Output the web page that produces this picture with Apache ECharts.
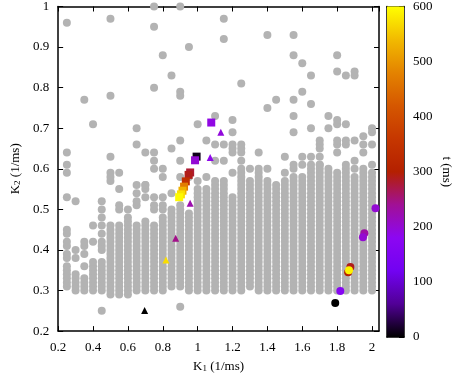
<!DOCTYPE html>
<html>
<head>
<meta charset="utf-8">
<script src="https://cdn.jsdelivr.net/npm/echarts@6/dist/echarts.min.js"></script>
<style>
  html, body { margin: 0; padding: 0; background: #fff; }
  #chart { width: 454px; height: 378px; }
</style>
</head>
<body>
<div id="chart"></div>
<script>
// grey grid of fits: each column (K1) has runs of K2 values, step 0.01
const colX = [0.25, 0.30, 0.35, 0.40, 0.45, 0.50, 0.55, 0.60, 0.65, 0.70, 0.75, 0.80,
  0.85, 0.90, 0.95, 1.00, 1.05, 1.10, 1.15, 1.20, 1.25, 1.30, 1.35, 1.40, 1.45, 1.50,
  1.55, 1.60, 1.65, 1.70, 1.75, 1.80, 1.85, 1.90, 1.95, 2.00];
const colRuns = [
  [[0.31, 0.36], [0.38, 0.39], [0.41, 0.42], [0.44, 0.45]],
  [[0.30, 0.34]],
  [[0.30, 0.33], [0.41, 0.42]],
  [[0.30, 0.37]],
  [[0.30, 0.37], [0.40, 0.42]],
  [[0.29, 0.46], [0.57, 0.59]],
  [[0.29, 0.46], [0.50, 0.51]],
  [[0.29, 0.48]],
  [[0.30, 0.46], [0.51, 0.52]],
  [[0.30, 0.47], [0.55, 0.56]],
  [[0.30, 0.46], [0.50, 0.51]],
  [[0.30, 0.48], [0.50, 0.51]],
  [[0.31, 0.50]],
  [[0.31, 0.51]],
  [[0.30, 0.49]],
  [[0.30, 0.55]],
  [[0.30, 0.55]],
  [[0.30, 0.57]],
  [[0.30, 0.57]],
  [[0.30, 0.53], [0.64, 0.66]],
  [[0.30, 0.60], [0.64, 0.66]],
  [[0.31, 0.57]],
  [[0.30, 0.60]],
  [[0.30, 0.57]],
  [[0.30, 0.56]],
  [[0.30, 0.57]],
  [[0.30, 0.58], [0.60, 0.61]],
  [[0.30, 0.58]],
  [[0.30, 0.61]],
  [[0.30, 0.61], [0.65, 0.67]],
  [[0.30, 0.60]],
  [[0.30, 0.59], [0.66, 0.67], [0.71, 0.72]],
  [[0.30, 0.61], [0.66, 0.67]],
  [[0.30, 0.58]],
  [[0.30, 0.60]],
  [[0.30, 0.59], [0.69, 0.70]]
];
// isolated grey points
const singleX = [0.25, 0.25, 0.25, 0.25, 0.25, 0.30, 0.30, 0.30, 0.35, 0.35, 0.35, 0.40, 0.40, 0.40,
  0.45, 0.45, 0.45, 0.45, 0.45, 0.45, 0.50, 0.50, 0.50, 0.55, 0.55, 0.60, 0.65, 0.65, 0.65, 0.65,
  0.70, 0.70, 0.70, 0.75, 0.75, 0.75, 0.75, 0.75, 0.75, 0.75, 0.80, 0.80, 0.80, 0.80, 0.85, 0.85, 0.85,
  0.90, 0.90, 0.90, 0.90, 0.90, 0.90, 0.90, 0.95, 0.95, 1.00, 1.00, 1.05, 1.05, 1.10, 1.10, 1.10,
  1.15, 1.15, 1.15, 1.15, 1.20, 1.20, 1.20, 1.25, 1.25, 1.30, 1.35, 1.40, 1.40, 1.40, 1.45, 1.50, 1.50,
  1.55, 1.55, 1.55, 1.55, 1.55, 1.60, 1.60, 1.60, 1.60, 1.65, 1.65, 1.65, 1.65, 1.70, 1.70,
  1.75, 1.75, 1.80, 1.80, 1.80, 1.85, 1.85, 1.90, 1.90, 1.90, 1.90, 1.90, 1.95, 1.95, 1.95, 2.00, 2.00];
const singleY = [0.96, 0.64, 0.61, 0.59, 0.53, 0.52, 0.40, 0.38, 0.77, 0.39, 0.36, 0.71, 0.46, 0.42,
  0.52, 0.50, 0.48, 0.46, 0.44, 0.25, 0.97, 0.78, 0.63, 0.59, 0.55, 0.50, 0.70, 0.66, 0.56, 0.54,
  0.64, 0.56, 0.53, 1.00, 0.95, 0.80, 0.64, 0.62, 0.60, 0.53, 0.88, 0.60, 0.58, 0.53, 0.83, 0.65, 0.54,
  1.00, 0.79, 0.78, 0.67, 0.62, 0.58, 0.26, 0.90, 0.58, 0.71, 0.57, 0.67, 0.58, 0.73, 0.66, 0.62,
  0.97, 0.92, 0.66, 0.62, 0.72, 0.69, 0.59, 0.81, 0.62, 0.60, 0.64, 0.93, 0.75, 0.60, 0.77, 0.63, 0.59,
  0.93, 0.88, 0.77, 0.73, 0.69, 0.86, 0.79, 0.63, 0.61, 0.83, 0.76, 0.70, 0.63, 0.63, 0.61,
  0.73, 0.70, 0.88, 0.84, 0.64, 0.83, 0.71, 0.84, 0.83, 0.67, 0.62, 0.60, 0.68, 0.66, 0.64, 0.66, 0.61];

// coloured markers: K1, K2, t (ms)
const sqX = [0.994, 0.985, 1.078, 0.957, 0.948, 0.932, 0.922, 0.913, 0.904, 0.894];
const sqY = [0.630, 0.621, 0.714, 0.591, 0.585, 0.569, 0.556, 0.546, 0.537, 0.530];
const sqT = [10, 200, 190, 280, 290, 340, 470, 530, 575, 595];
const triX = [1.133, 1.072, 0.957, 0.874, 0.818, 0.696];
const triY = [0.690, 0.628, 0.515, 0.429, 0.375, 0.251];
const triT = [195, 185, 225, 245, 570, 0];
const cirX = [1.789, 1.818, 1.876, 1.863, 1.868, 1.956, 1.948, 2.020];
const cirY = [0.269, 0.299, 0.358, 0.345, 0.350, 0.441, 0.431, 0.503];
const cirT = [0, 165, 290, 300, 590, 230, 200, 200];

// palette (black-purple-red-orange-yellow), 0..600 ms
const palette = ['#000000', '#510096', '#7202f2', '#8c07f2', '#a11096', '#b42000',
  '#c63700', '#d55700', '#e48300', '#f2ba00', '#ffff00'];
const cbTicks = [0, 100, 200, 300, 400, 500, 600];

const greyData = [];
colX.forEach(function (x, i) {
  colRuns[i].forEach(function (r) {
    const lo = Math.round(r[0] * 100), hi = Math.round(r[1] * 100);
    for (let k = lo; k <= hi; k++) greyData.push([x, k / 100]);
  });
});
singleX.forEach(function (x, i) { greyData.push([x, singleY[i]]); });

function triples(xs, ys, ts) {
  return xs.map(function (x, i) { return [x, ys[i], ts[i]]; });
}

const serif = 'Liberation Serif';
const black = '#000';
const frameLine = { show: true, onZero: false, lineStyle: { color: black, width: 1.5 } };
const inTick = { show: true, inside: true, length: 5, lineStyle: { color: black, width: 1 } };
const tickLabel = { color: black, fontFamily: serif, fontSize: 13 };
const rich = {
  sub: { fontFamily: serif, fontSize: 9, verticalAlign: 'bottom', lineHeight: 12, padding: [5, 0, 0, 0] }
};

const chart = echarts.init(document.getElementById('chart'), null, { renderer: 'canvas' });
chart.setOption({
  backgroundColor: '#fff',
  animation: false,
  grid: [
    { left: 48, right: 75, top: 6, bottom: 42 },
    { left: 387, width: 17, top: 6, bottom: 41 }
  ],
  xAxis: [
    {
      gridIndex: 0, type: 'value', min: 0.2, max: 2.04, interval: 0.2,
      axisLine: frameLine, axisTick: inTick, splitLine: { show: false },
      axisLabel: Object.assign({ margin: 10, showMaxLabel: false }, tickLabel),
      name: 'K{sub|1} (1/ms)', nameLocation: 'middle', nameGap: 25,
      nameTextStyle: { color: black, fontFamily: serif, fontSize: 13, rich: rich }
    },
    {
      gridIndex: 0, type: 'value', position: 'top', min: 0.2, max: 2.04, interval: 0.2,
      axisLine: frameLine, axisTick: inTick, splitLine: { show: false }, axisLabel: { show: false }
    },
    {
      gridIndex: 1, type: 'category', data: ['t'],
      axisLine: frameLine, axisTick: { show: false }, axisLabel: { show: false }
    },
    {
      gridIndex: 1, type: 'category', data: ['t'], position: 'top',
      axisLine: frameLine, axisTick: { show: false }, axisLabel: { show: false }
    }
  ],
  yAxis: [
    {
      gridIndex: 0, type: 'value', min: 0.2, max: 1, interval: 0.1,
      axisLine: frameLine, axisTick: inTick, splitLine: { show: false },
      axisLabel: Object.assign({ margin: 9 }, tickLabel),
      name: 'K{sub|2} (1/ms)', nameLocation: 'middle', nameGap: 34,
      nameTextStyle: { color: black, fontFamily: serif, fontSize: 13, rich: rich }
    },
    {
      gridIndex: 0, type: 'value', position: 'right', min: 0.2, max: 1, interval: 0.1,
      axisLine: frameLine, axisTick: inTick, splitLine: { show: false }, axisLabel: { show: false }
    },
    {
      gridIndex: 1, type: 'value', min: 0, max: 600, interval: 100,
      axisLine: frameLine, axisTick: { show: false }, splitLine: { show: false }, axisLabel: { show: false }
    },
    {
      gridIndex: 1, type: 'value', position: 'right', min: 0, max: 600, interval: 100,
      axisLine: frameLine, axisTick: inTick, splitLine: { show: false },
      axisLabel: Object.assign({ margin: 9 }, tickLabel),
      name: 't (ms)', nameLocation: 'middle', nameGap: 36, nameRotate: -90,
      nameTextStyle: { color: black, fontFamily: serif, fontSize: 13 }
    }
  ],
  visualMap: {
    type: 'continuous', show: false, seriesIndex: [1, 2, 3], dimension: 2,
    min: 0, max: 600, inRange: { color: palette }
  },
  series: [
    {
      type: 'scatter', xAxisIndex: 0, yAxisIndex: 0, data: greyData,
      symbol: 'circle', symbolSize: 8, itemStyle: { color: '#b3b3b3', opacity: 1 }, z: 2
    },
    {
      type: 'scatter', xAxisIndex: 0, yAxisIndex: 0, data: triples(sqX, sqY, sqT),
      symbol: 'rect', symbolSize: 8, itemStyle: { opacity: 1 }, z: 3
    },
    {
      type: 'scatter', xAxisIndex: 0, yAxisIndex: 0, data: triples(triX, triY, triT),
      symbol: 'triangle', symbolSize: 7, itemStyle: { opacity: 1 }, z: 3
    },
    {
      type: 'scatter', xAxisIndex: 0, yAxisIndex: 0, data: triples(cirX, cirY, cirT),
      symbol: 'circle', symbolSize: 8, itemStyle: { opacity: 1 }, z: 3
    },
    {
      type: 'bar', xAxisIndex: 2, yAxisIndex: 3, data: [cbTicks[cbTicks.length - 1]],
      barWidth: '100%', silent: true,
      itemStyle: {
        color: new echarts.graphic.LinearGradient(0, 1, 0, 0, palette.map(function (c, i) {
          return { offset: i / (palette.length - 1), color: c };
        }))
      }
    }
  ]
});
</script>
</body>
</html>
